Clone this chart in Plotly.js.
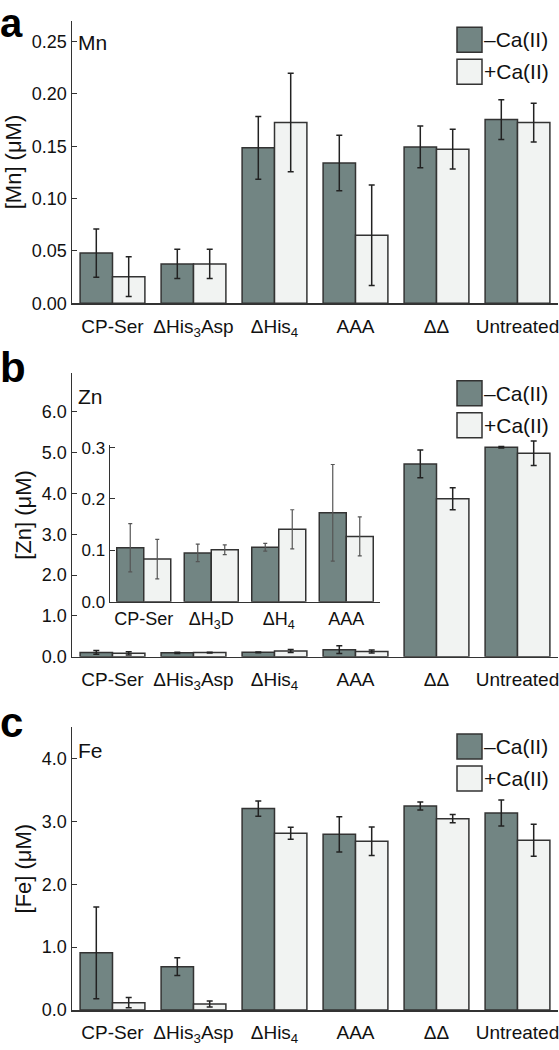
<!DOCTYPE html>
<html>
<head>
<meta charset="utf-8">
<script src="https://cdn.plot.ly/plotly-3.0.1.min.js"></script>
<style>html,body{margin:0;padding:0;background:#fff;}#chart{width:559px;height:1050px;}</style>
</head>
<body>
<div id="chart"></div>
<script>
// ---- data ----
const categories = ['CP-Ser', 'ΔHis<sub>3</sub>Asp', 'ΔHis<sub>4</sub>', 'AAA', 'ΔΔ', 'Untreated'];
const insetCategories = ['CP-Ser', 'ΔH<sub>3</sub>D', 'ΔH<sub>4</sub>', 'AAA'];
const seriesNames = ['–Ca(II)', '+Ca(II)'];

// Panel a: Mn (µM)
const mnMinusCa    = [0.048, 0.0376, 0.1485, 0.134, 0.1494, 0.1755];
const mnMinusCaErr = [0.023, 0.014, 0.030, 0.0265, 0.020, 0.019];
const mnPlusCa     = [0.0254, 0.0376, 0.1727, 0.065, 0.1472, 0.1727];
const mnPlusCaErr  = [0.019, 0.014, 0.047, 0.048, 0.019, 0.0185];

// Panel b: Zn (µM)
const znMinusCa    = [0.105, 0.095, 0.106, 0.173, 4.72, 5.13];
const znMinusCaErr = [0.047, 0.017, 0.0075, 0.094, 0.34, 0.02];
const znPlusCa     = [0.083, 0.101, 0.141, 0.127, 3.87, 4.98];
const znPlusCaErr  = [0.0385, 0.0095, 0.038, 0.038, 0.27, 0.30];

// Panel c: Fe (µM)
const feMinusCa    = [0.91, 0.69, 3.206, 2.797, 3.248, 3.137];
const feMinusCaErr = [0.73, 0.14, 0.12, 0.28, 0.064, 0.207];
const fePlusCa     = [0.117, 0.096, 2.813, 2.686, 3.046, 2.702];
const fePlusCaErr  = [0.08, 0.048, 0.095, 0.226, 0.067, 0.255];

// ---- style ----
const W = 559, H = 1050;
const px = x => x / W;
const py = y => 1 - y / H;
const DARK = '#728583', LIGHT = '#f1f3f2', EDGE = '#333333';
const FONT = 'Liberation Sans, Arial, Helvetica, sans-serif';

function bar(x, y, err, color, xa, ya, errColor, errW, capW) {
  return {
    type: 'bar', x: x, y: y, xaxis: xa, yaxis: ya, showlegend: false,
    marker: {color: color, line: {color: EDGE, width: 1.5}},
    error_y: {type: 'data', array: err, visible: true, color: errColor, thickness: errW, width: capW},
    hoverinfo: 'x+y'
  };
}

const data = [
  bar(categories, mnMinusCa, mnMinusCaErr, DARK, 'x', 'y', '#222', 1.5, 3),
  bar(categories, mnPlusCa, mnPlusCaErr, LIGHT, 'x', 'y', '#222', 1.5, 3),
  bar(categories, znMinusCa, znMinusCaErr, DARK, 'x2', 'y2', '#222', 1.5, 3),
  bar(categories, znPlusCa, znPlusCaErr, LIGHT, 'x2', 'y2', '#222', 1.5, 3),
  bar(categories, feMinusCa, feMinusCaErr, DARK, 'x3', 'y3', '#222', 1.5, 3),
  bar(categories, fePlusCa, fePlusCaErr, LIGHT, 'x3', 'y3', '#222', 1.5, 3),
  bar(insetCategories, znMinusCa.slice(0, 4), znMinusCaErr.slice(0, 4), DARK, 'x4', 'y4', '#555', 1.2, 2),
  bar(insetCategories, znPlusCa.slice(0, 4), znPlusCaErr.slice(0, 4), LIGHT, 'x4', 'y4', '#555', 1.2, 2)
];

const xBase = {
  type: 'category', range: [-0.5, 5.5], showline: true, linecolor: EDGE, linewidth: 1.5,
  ticks: '', showgrid: false, zeroline: false, fixedrange: true,
  tickfont: {family: FONT, size: 19, color: '#111'}, ticklabelstandoff: 5
};
function yBase(domain, range, dtick, fmt, title) {
  return {
    domain: domain, range: range, dtick: dtick, tick0: 0, tickformat: fmt,
    showline: true, linecolor: EDGE, linewidth: 1.5, ticks: 'inside', ticklen: 5, tickcolor: EDGE,
    showgrid: false, zeroline: false, fixedrange: true,
    tickfont: {family: FONT, size: 18, color: '#111'},
    title: {text: title, font: {family: FONT, size: 22, color: '#111'}, standoff: 4}
  };
}

const xDom = [px(72), px(558)];
const layout = {
  width: W, height: H, margin: {l: 0, r: 0, t: 0, b: 0},
  paper_bgcolor: '#fff', plot_bgcolor: 'rgba(0,0,0,0)',
  barmode: 'group', bargap: 0.2, bargroupgap: 0, showlegend: false,
  font: {family: FONT, color: '#111'},
  xaxis: Object.assign({}, xBase, {domain: xDom, anchor: 'y'}),
  yaxis: yBase([py(303.3), py(20.7)], [0, 0.27], 0.05, '.2f', '[Mn] (μM)'),
  xaxis2: Object.assign({}, xBase, {domain: xDom, anchor: 'y2'}),
  yaxis2: yBase([py(656.7), py(373.3)], [0, 6.94], 1, '.1f', '[Zn] (μM)'),
  xaxis3: Object.assign({}, xBase, {domain: xDom, anchor: 'y3'}),
  yaxis3: yBase([py(1010), py(727.3)], [0, 4.5], 1, '.1f', '[Fe] (μM)'),
  xaxis4: Object.assign({}, xBase, {domain: [px(110), px(380)], anchor: 'y4', range: [-0.5, 3.5],
    tickfont: {family: FONT, size: 18, color: '#111'}, ticklabelstandoff: 0}),
  yaxis4: Object.assign(yBase([py(601.7), py(445)], [0, 0.305], 0.1, '.1f', ''),
    {tickfont: {family: FONT, size: 17, color: '#111'}, anchor: 'x4', title: {text: ''}}),
  shapes: [],
  annotations: []
};
layout.yaxis.anchor = 'x';
layout.yaxis2.anchor = 'x2';
layout.yaxis3.anchor = 'x3';

// panel letters and metal labels
const panels = [
  {letter: 'a', ly: -1, metal: 'Mn', my: 42.7, box: 27.3},
  {letter: 'b', ly: 342, metal: 'Zn', my: 396.7, box: 380.7},
  {letter: 'c', ly: 697, metal: 'Fe', my: 750, box: 734}
];
panels.forEach(p => {
  layout.annotations.push({xref: 'paper', yref: 'paper', x: px(-2), y: py(p.ly), xanchor: 'left', yanchor: 'top',
    text: '<b>' + p.letter + '</b>', showarrow: false, font: {family: FONT, size: p.letter === 'a' ? 40 : 42, color: '#000'}});
  layout.annotations.push({xref: 'paper', yref: 'paper', x: px(76), y: py(p.my), xanchor: 'left', yanchor: 'middle',
    text: p.metal, showarrow: false, font: {family: FONT, size: 21, color: '#111'}});
  [DARK, LIGHT].forEach((c, i) => {
    const y0 = p.box + i * 32;
    layout.shapes.push({type: 'rect', xref: 'paper', yref: 'paper', x0: px(457), x1: px(482),
      y0: py(y0), y1: py(y0 + 25), fillcolor: c, line: {color: EDGE, width: 1.5}});
    layout.annotations.push({xref: 'paper', yref: 'paper', x: px(482), y: py(y0 + 12.5), xanchor: 'left', yanchor: 'middle',
      text: seriesNames[i], showarrow: false, font: {family: FONT, size: 21, color: '#111'}});
  });
});

Plotly.newPlot('chart', data, layout, {displayModeBar: false, staticPlot: true});
</script>
</body>
</html>
